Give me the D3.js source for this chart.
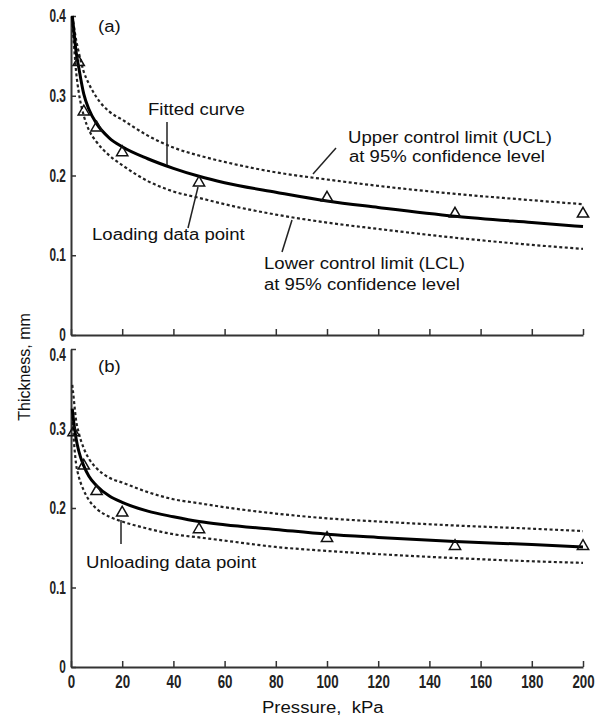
<!DOCTYPE html>
<html>
<head>
<meta charset="utf-8">
<script src="https://cdn.jsdelivr.net/npm/d3@7"></script>
<style>
  body { margin: 0; background: #fff; }
  text { font-family: "Liberation Sans", Arial, sans-serif; fill: #111; }
  .tick text { font-size: 18px; font-weight: bold; fill: #222; }
  .yax .tick text { font-size: 16px; }
</style>
</head>
<body>
<script>
// pressure samples used to draw the curves (kPa)
var curveP = [0.5, 1, 2, 3, 5, 7, 10, 15, 20, 30, 40, 50, 60, 80, 100, 120, 150, 180, 200];

// panel (a) loading
var fitA = [0.400, 0.385, 0.355, 0.336, 0.302, 0.283, 0.265, 0.247, 0.236, 0.221, 0.209, 0.199, 0.191, 0.179, 0.168, 0.160, 0.149, 0.141, 0.136];
var uclA = [0.400, 0.390, 0.370, 0.355, 0.330, 0.315, 0.298, 0.280, 0.270, 0.250, 0.235, 0.225, 0.217, 0.204, 0.195, 0.187, 0.177, 0.169, 0.164];
var lclA = [0.390, 0.370, 0.330, 0.305, 0.275, 0.257, 0.242, 0.225, 0.213, 0.193, 0.180, 0.172, 0.164, 0.151, 0.141, 0.133, 0.122, 0.113, 0.108];
var pointsPA = [3, 5, 10, 20, 50, 100, 150, 200];
var pointsTA = [0.342, 0.280, 0.260, 0.229, 0.191, 0.172, 0.152, 0.152];

// panel (b) unloading
var fitB = [0.325, 0.310, 0.287, 0.272, 0.253, 0.240, 0.228, 0.215, 0.207, 0.196, 0.189, 0.183, 0.179, 0.173, 0.167, 0.163, 0.158, 0.154, 0.151];
var uclB = [0.355, 0.340, 0.310, 0.295, 0.275, 0.262, 0.250, 0.238, 0.232, 0.220, 0.211, 0.206, 0.201, 0.193, 0.187, 0.183, 0.178, 0.174, 0.171];
var lclB = [0.315, 0.290, 0.255, 0.240, 0.222, 0.210, 0.199, 0.189, 0.183, 0.174, 0.167, 0.163, 0.159, 0.151, 0.146, 0.142, 0.137, 0.133, 0.131];
var pointsPB = [1, 5, 10, 20, 50, 100, 150, 200];
var pointsTB = [0.295, 0.253, 0.221, 0.194, 0.173, 0.162, 0.152, 0.152];

var xTicks = [0, 20, 40, 60, 80, 100, 120, 140, 160, 180, 200];
var yTicks = [0, 0.1, 0.2, 0.3, 0.4];

var width = 600, height = 717;

var svg = d3.select("body").append("svg")
    .attr("width", width)
    .attr("height", height);

var x = d3.scaleLinear().domain([0, 200]).range([71, 583]);

function drawPanel(top, bottom, fit, ucl, lcl, pp, pt, showLabels) {
    var y = d3.scaleLinear().domain([0, 0.4]).range([bottom, top]);

    var yAxis = svg.append("g")
        .attr("class", "yax")
        .attr("transform", "translate(" + x(0) + ",0)")
        .call(d3.axisLeft(y).tickValues(yTicks).tickSizeInner(-5).tickSizeOuter(0).tickPadding(7)
            .tickFormat(function (d) { return d === 0 ? "0" : d.toFixed(1); }));

    var xAxis = svg.append("g")
        .attr("transform", "translate(0," + bottom + ")")
        .call(d3.axisBottom(x).tickValues(xTicks).tickSizeInner(-6).tickSizeOuter(0).tickPadding(8)
            .tickFormat(showLabels ? d3.format("d") : function () { return ""; }));

    // condensed look of the tick numbers
    yAxis.selectAll(".tick text").attr("transform", "scale(0.74,1.1)");
    xAxis.selectAll(".tick text").attr("transform", "scale(0.74,1)");

    // lower panel: top label sits a little under its tick
    if (showLabels) {
        yAxis.selectAll(".tick text")
            .filter(function (d) { return d === 0.4; })
            .attr("transform", "translate(0,6) scale(0.74,1.1)");
    }

    [yAxis, xAxis].forEach(function (g) {
        g.select(".domain").attr("stroke", "#333").attr("stroke-width", 2);
        g.selectAll(".tick line").attr("stroke", "#333").attr("stroke-width", 1.5);
    });

    var line = d3.line()
        .x(function (d) { return x(d[0]); })
        .y(function (d) { return y(d[1]); })
        .curve(d3.curveMonotoneX);

    [ucl, lcl].forEach(function (arr) {
        svg.append("path")
            .datum(curveP.map(function (p, i) { return [p, arr[i]]; }))
            .attr("d", line)
            .attr("fill", "none")
            .attr("stroke", "#222")
            .attr("stroke-width", 2.2)
            .attr("stroke-dasharray", "3,2.5");
    });

    svg.append("path")
        .datum(curveP.map(function (p, i) { return [p, fit[i]]; }))
        .attr("d", line)
        .attr("fill", "none")
        .attr("stroke", "#000")
        .attr("stroke-width", 3);

    svg.selectAll(null)
        .data(pp.map(function (p, i) { return [p, pt[i]]; }))
        .enter()
        .append("path")
        .attr("d", d3.symbol().type(d3.symbolTriangle).size(55))
        .attr("transform", function (d) { return "translate(" + x(d[0]) + "," + y(d[1]) + ")"; })
        .attr("fill", "none")
        .attr("stroke", "#111")
        .attr("stroke-width", 1.5);
}

drawPanel(16, 335, fitA, uclA, lclA, pointsPA, pointsTA, false);
drawPanel(349, 667, fitB, uclB, lclB, pointsPB, pointsTB, true);

// stretched labels, the figure text is a bit wider than Arial
function label(txt, tx, ty) {
    svg.append("text")
        .attr("transform", "translate(" + tx + "," + ty + ") scale(1.16,1)")
        .attr("font-size", 16)
        .text(txt);
}

function leader(x1, y1, x2, y2) {
    svg.append("line")
        .attr("x1", x1).attr("y1", y1)
        .attr("x2", x2).attr("y2", y2)
        .attr("stroke", "#222")
        .attr("stroke-width", 1.5);
}

label("(a)", 98, 32);
label("(b)", 98, 372);
label("Fitted curve", 148, 115);
leader(167, 122, 167, 165);
label("Upper control limit (UCL)", 348, 143);
label("at 95% confidence level", 349, 162);
leader(336, 148, 313, 174);
label("Loading data point", 92, 240);
leader(188, 228, 198, 187);
label("Lower control limit (LCL)", 264, 269);
label("at 95% confidence level", 264, 290);
leader(282, 252, 292, 220);
label("Unloading data point", 86, 568);
leader(121, 520, 121, 544);

// axis titles
svg.append("text")
    .attr("transform", "translate(30,367) rotate(-90)")
    .attr("text-anchor", "middle")
    .attr("font-size", 16)
    .text("Thickness, mm");

label("Pressure,\u00a0 kPa", 262, 713);
</script>
</body>
</html>
